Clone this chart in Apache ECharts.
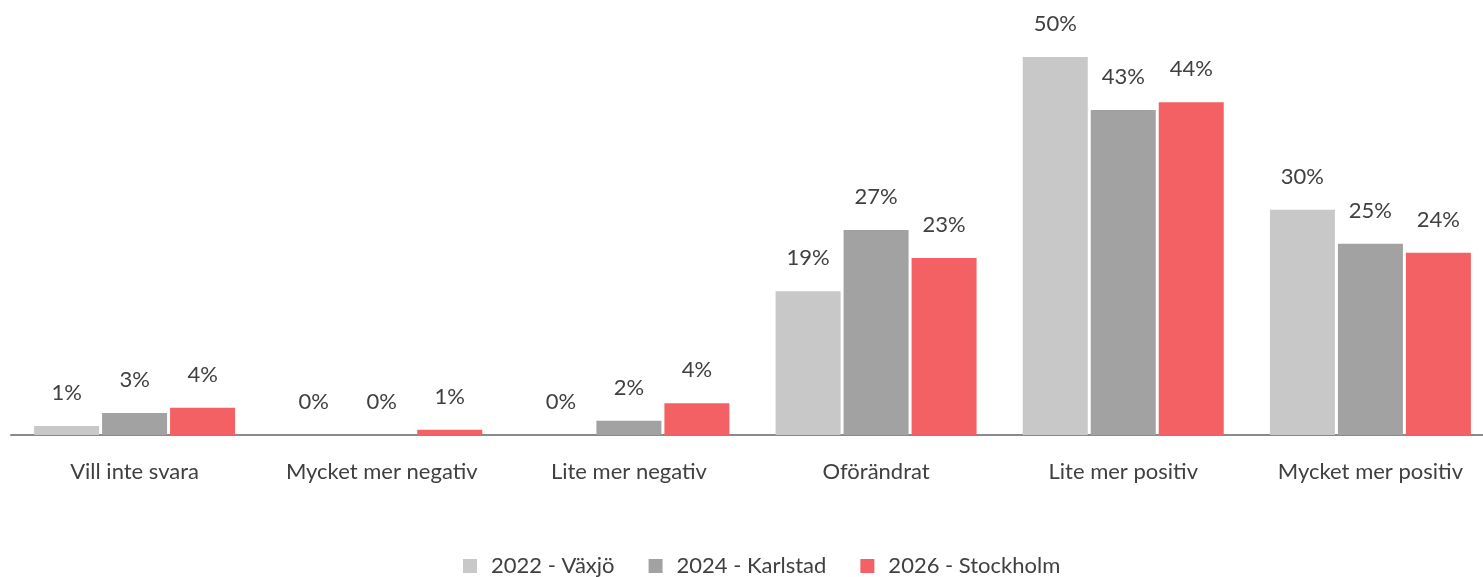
<!DOCTYPE html>
<html>
<head>
<meta charset="utf-8">
<script src="https://cdn.jsdelivr.net/npm/echarts@6/dist/echarts.min.js"></script>
<style>
  html, body { margin: 0; padding: 0; background: #fff; overflow: hidden; }
  #chart { width: 1494px; height: 577px; }
</style>
</head>
<body>
<div id="chart"></div>
<script>
// kategorier och serier
const categories = ['Vill inte svara', 'Mycket mer negativ', 'Lite mer negativ', 'Oförändrat', 'Lite mer positiv', 'Mycket mer positiv'];
const seriesNames = ['2022 - Växjö', '2024 - Karlstad', '2026 - Stockholm'];
const vaxjo2022 = [1.2, 0, 0, 19.0, 50.0, 29.8];
const karlstad2024 = [2.9, 0, 1.9, 27.1, 43.0, 25.3];
const stockholm2026 = [3.6, 0.7, 4.2, 23.4, 44.0, 24.1];
const colors = ['#c8c8c8', '#a2a2a2', '#f46164'];

// diagrammet är lite bredare än fönstret så att sista gruppen hamnar rätt
const chart = echarts.init(document.getElementById('chart'));
const textColor = '#404040';
const fontFamily = 'Lato, "Open Sans", sans-serif';

function makeSeries(name, values, color) {
    return {
        name: name,
        type: 'bar',
        data: values,
        barWidth: 65,
        barGap: '4.6%',
        itemStyle: { color: color },
        label: {
            show: true,
            position: 'top',
            distance: 22,
            color: textColor,
            fontSize: 22,
            fontFamily: fontFamily,
            formatter: function (p) {
                return Math.round(p.value) + '%';
            }
        }
    };
}

let option = {
    animation: false,
    grid: {
        left: 11,
        right: 0,
        top: 57,
        bottom: 142,
        containLabel: false
    },
    legend: {
        bottom: -5,
        left: 458,
        icon: 'rect',
        itemWidth: 14,
        itemHeight: 14,
        itemGap: 34,
        textStyle: { color: textColor, fontSize: 22, fontFamily: fontFamily, padding: [0, 0, 0, 9] }
    },
    xAxis: {
        type: 'category',
        data: categories,
        axisLine: { lineStyle: { color: '#8a8a8a', width: 2 } },
        axisTick: { show: false },
        axisLabel: {
            color: textColor,
            fontSize: 22,
            fontFamily: fontFamily,
            margin: 26,
            interval: 0
        }
    },
    yAxis: {
        type: 'value',
        min: 0,
        max: 50,
        show: false,
        splitLine: { show: false }
    },
    series: [
        makeSeries(seriesNames[0], vaxjo2022, colors[0]),
        makeSeries(seriesNames[1], karlstad2024, colors[1]),
        makeSeries(seriesNames[2], stockholm2026, colors[2])
    ]
};

chart.setOption(option);
</script>
</body>
</html>
